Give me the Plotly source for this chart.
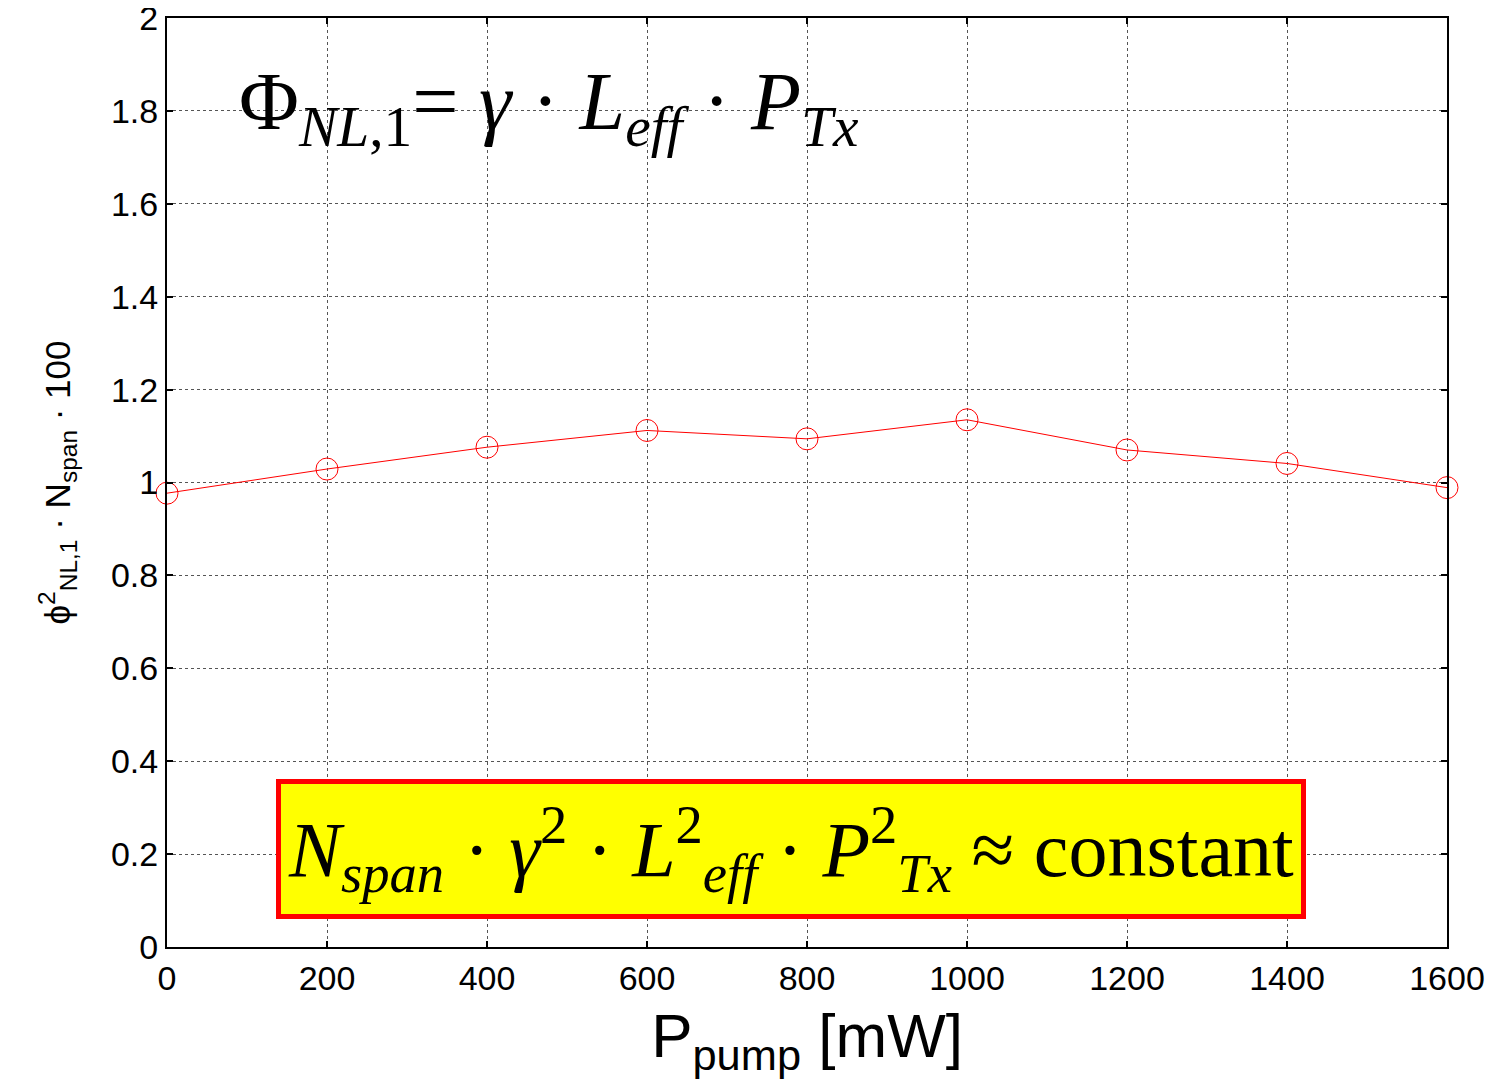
import plotly.graph_objects as go

x_pump = [0, 200, 400, 600, 800, 1000, 1200, 1400, 1600]
y_vals = [0.977, 1.029, 1.076, 1.112, 1.094, 1.135, 1.070, 1.041, 0.989]
x_ticks = [0, 200, 400, 600, 800, 1000, 1200, 1400, 1600]
y_ticks = [0, 0.2, 0.4, 0.6, 0.8, 1, 1.2, 1.4, 1.6, 1.8, 2]
y_tick_labels = ["0", "0.2", "0.4", "0.6", "0.8", "1", "1.2", "1.4", "1.6", "1.8", "2"]

fig = go.Figure()
fig.add_trace(go.Scatter(
    x=x_pump, y=y_vals, mode="lines+markers",
    line=dict(color="#ff0000", width=1),
    marker=dict(symbol="circle-open", size=22, color="#ff0000", line=dict(width=1)),
    cliponaxis=False, showlegend=False,
))

axis_common = dict(
    showline=True, linecolor="black", linewidth=2, mirror="ticks",
    ticks="inside", ticklen=6, tickcolor="black", tickwidth=2,
    showgrid=True, gridcolor="#555555", gridwidth=1, griddash="dot",
    zeroline=False, automargin=False, ticklabeloverflow="allow",
    tickfont=dict(family="Liberation Sans, Arial", size=34, color="black"),
)

fig.update_xaxes(range=[0, 1600], tickvals=x_ticks, **axis_common)
fig.update_yaxes(range=[0, 2], tickvals=y_ticks, ticktext=y_tick_labels, **axis_common)

fig.update_layout(
    width=1485, height=1080,
    margin=dict(l=159, r=46, t=10, b=141),
    paper_bgcolor="white", plot_bgcolor="white",
    xaxis_title=dict(text="P<sub>pump</sub> [mW]",
                     font=dict(family="Liberation Sans, Arial", size=62, color="black"),
                     standoff=18),
    yaxis_title=dict(text="ϕ<sup>2</sup><sub>NL,1</sub> · N<sub>span</sub> · 100",
                     font=dict(family="Liberation Sans, Arial", size=35, color="black"),
                     standoff=30),
)

fig.add_annotation(
    xref="paper", yref="paper", x=0.0545, y=0.961, xanchor="left", yanchor="top",
    text="Φ<sub><i>NL</i>,1</sub>= <i>γ</i> · <i>L<sub>eff</sub></i> · <i>P<sub>Tx</sub></i>",
    showarrow=False,
    font=dict(family="Liberation Serif, Times New Roman", size=82, color="black"),
)

fig.add_annotation(
    xref="paper", yref="paper", x=0.4875, y=0.1055, xanchor="center", yanchor="middle",
    text="<i>N<sub>span</sub></i> · <i>γ</i><sup>2</sup> · <i>L</i><sup>2</sup><sub><i>eff</i></sub> · <i>P</i><sup>2</sup><sub><i>Tx</i></sub> ≈ constant",
    showarrow=False, width=1020, height=130,
    bgcolor="#ffff00", bordercolor="#ff0000", borderwidth=5, borderpad=0,
    font=dict(family="Liberation Serif, Times New Roman", size=78, color="black"),
)

fig.write_html("out.html")
